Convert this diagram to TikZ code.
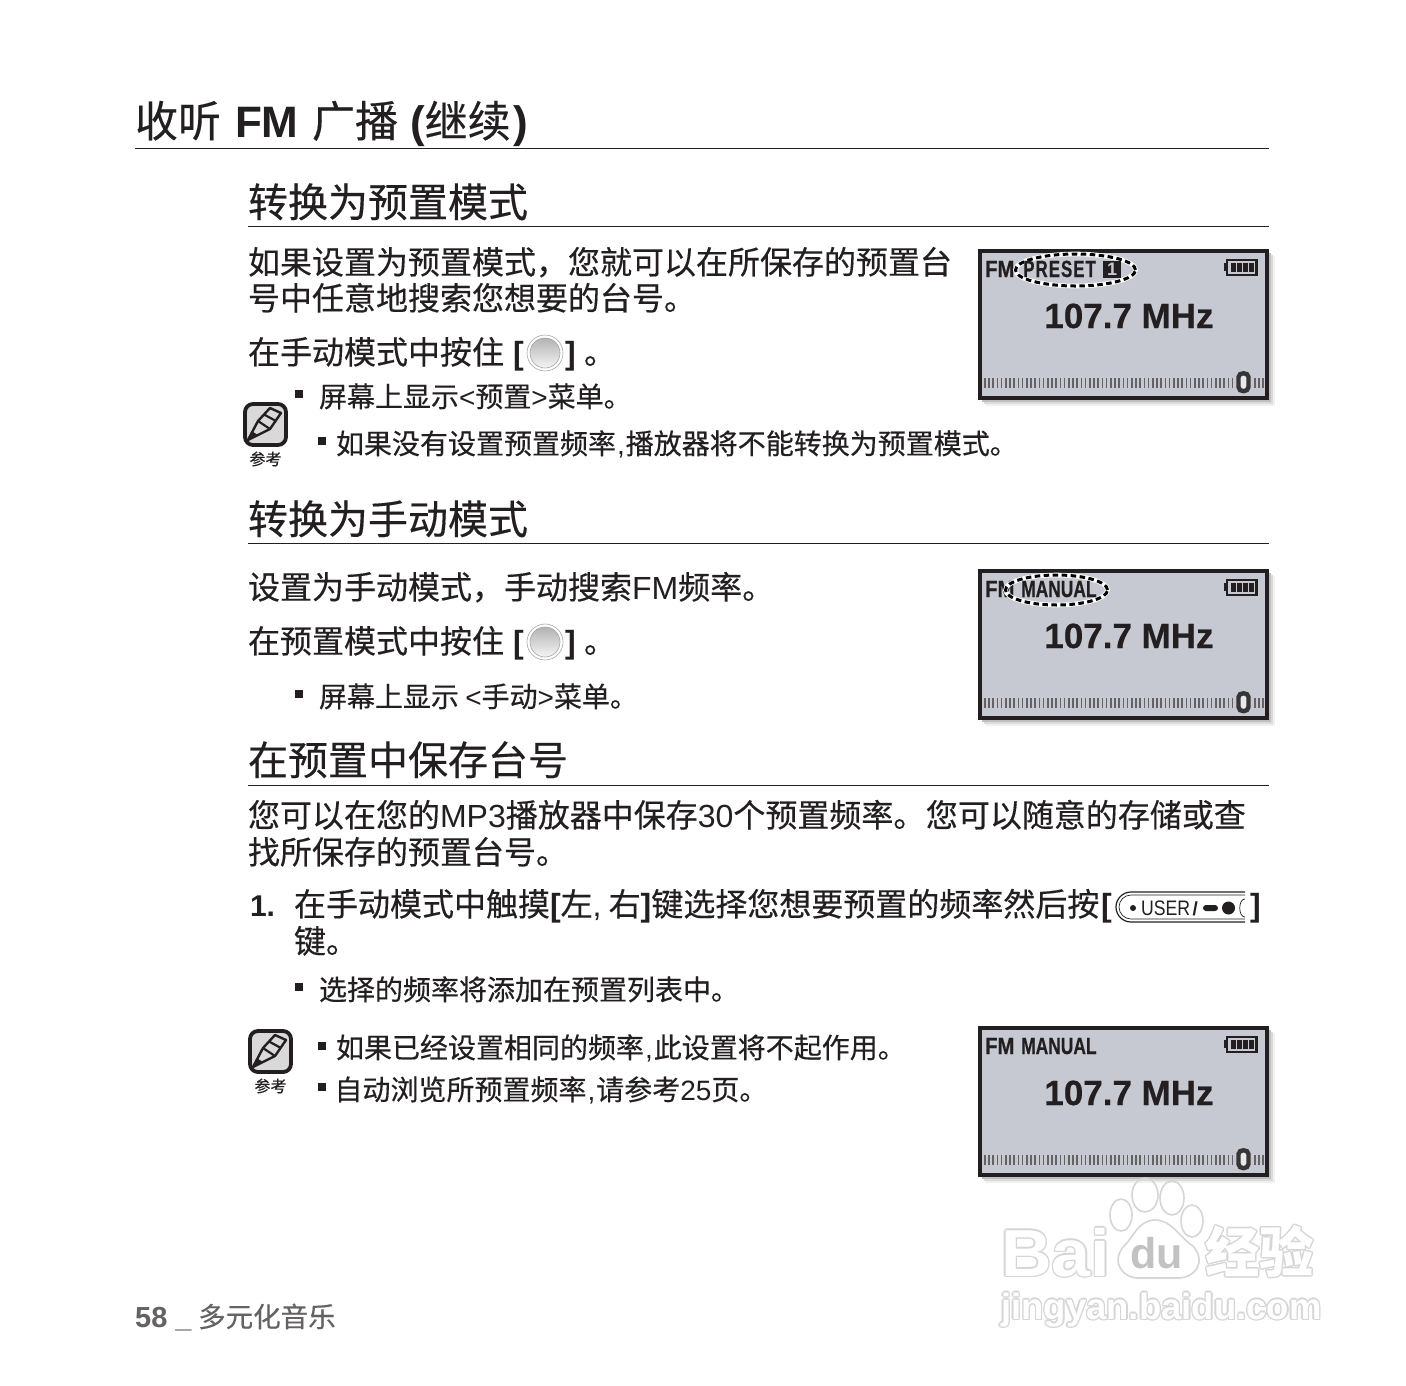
\documentclass[tikz,border=0pt]{standalone}
\usepackage{fontspec}
\usepackage{graphicx}
\setmainfont{Noto Sans CJK SC}[FakeBold=0.35]
\newfontfamily\lsf{Liberation Sans}
\newfontfamily\lcdf{Liberation Sans}[BoldFeatures={FakeBold=0.6}]
\newcommand\La[1]{{\lsf #1}}
\newcommand\Lb[1]{{\lsf\bfseries #1}}
\definecolor{ink}{HTML}{231F20}
\definecolor{lcdbg}{HTML}{C6C9D2}
\usetikzlibrary{calc}
\tikzset{
  txt/.style={anchor=base west,inner sep=0pt,outer sep=0pt,text=ink},
  titletxt/.style={txt,font=\fontsize{43}{43}\selectfont},
  headtxt/.style={txt,font=\fontsize{40}{40}\selectfont},
  bodytxt/.style={txt,font=\fontsize{32}{32}\selectfont},
  subtxt/.style={txt,font=\fontsize{28}{28}\selectfont},
  rulet/.style={line width=0.9pt,draw=ink},
  bulletbox/.style={fill=ink,draw=none},
  lcdframe/.style={draw=ink,line width=3.8pt,fill=lcdbg},
  lcdsmall/.style={anchor=base west,inner sep=0pt,text=ink,font=\lcdf\bfseries\fontsize{23.5}{23.5}\selectfont},
  freq/.style={anchor=base,inner sep=0pt,text=ink,font=\lcdf\bfseries\fontsize{35}{35}\selectfont},
  dashw/.style={draw=white,line width=4.6pt},
  dashk/.style={draw=black,line width=3pt,dash pattern=on 5.5pt off 3.5pt},
}
% LCD panel: #1 name, #2 top y
\newcommand\lcdpanel[2]{%
  \begin{scope}[shift={(0,#2)}]
    \fill[gray!12] (985,7) rectangle (1275,157);
    \fill[gray!28] (984,6) rectangle (1273,155);
    \fill[gray!50] (982,4) rectangle (1271,152.5);
    \draw[lcdframe] (980,2) rectangle (1267,149);
    \node[freq] (#1f) at (1129,79) {107.7 MHz};
    % battery
    \fill[ink] (1224,14) rectangle (1227,22);
    \draw[ink,line width=2.2pt,fill=lcdbg] (1227,11) rectangle (1256.5,26);
    \foreach \bx in {1231,1237,1243,1249} \fill[ink] (\bx,14) rectangle +(4.5,9);
    % tuning scale
    \foreach \tx in {984,988.2,...,1232,1254,1258.2,1262.4}
      \fill[ink!70] (\tx,128.5) rectangle +(1.6,10);
    \draw[ink!90,line width=4.4pt,fill=lcdbg!40]
      (1238.5,128) .. controls (1238.5,123) and (1248.5,123) .. (1248.5,128) -- (1248.5,138)
      .. controls (1248.5,143.5) and (1238.5,143.5) .. (1238.5,138) -- cycle;
  \end{scope}}
% note icon: #1 name, #2 x, #3 y
\newcommand\noteicon[3]{%
  \begin{scope}[shift={(#2,#3)}]
    \node[draw=ink,line width=3.8pt,fill=gray!30,rounded corners=8pt,minimum width=41pt,minimum height=41pt,inner sep=0pt] (#1) at (22.5,22.5) {};
    \draw[ink,line width=2.4pt,line join=round]
      (5,38) -- (15,19) -- (27,6) -- (38,11) -- (27,27) -- cycle;
    \draw[ink,line width=2.2pt] (15,19) -- (27,27) (21,12.5) -- (33,19);
    \fill[ink] (5,38) -- (8.5,29) -- (15,33) -- cycle;
  \end{scope}}
% round button
\newcommand\roundbtn[3]{%
  \node[circle,draw=gray!70,line width=0.6pt,minimum size=36pt,inner sep=0pt] (#1) at (#2,#3) {};
  \shade[top color=gray!60,bottom color=gray!8,draw=gray!70,line width=0.6pt] (#2,#3) circle (15pt);}
% outlined watermark text
\newcommand\wmtext[5]{%
  \foreach \dx/\dy in {-1.4/0,1.4/0,0/-1.4,0/1.4,-1/-1,1/-1,-1/1,1/1}
    \node[anchor=base west,inner sep=0pt,text=gray!32,font=#4] at ($(#2,#3)+(\dx,\dy)$) {#5};
  \node[anchor=base west,inner sep=0pt,text=white,font=#4] (#1) at (#2,#3) {#5};}
\begin{document}
\begin{tikzpicture}[x=1pt,y=-1pt]
\useasboundingbox (0,0) rectangle (1406,1385);
\fill[white] (0,0) rectangle (1406,1385);

% title
\node[titletxt] (title) at (135,137) {收听\hspace{14pt}\Lb{\fontsize{44}{44}\selectfont FM}\hspace{13.5pt}广播\hspace{12pt}\Lb{\fontsize{44}{44}\selectfont (}继续\hspace{3pt}\Lb{\fontsize{44}{44}\selectfont )}};
\coordinate (r0a) at (135,148.5); \coordinate (r0b) at (1268.5,148.5);
\draw[rulet] (r0a) -- (r0b);

% section 1
\node[headtxt] (h1) at (248,217) {转换为预置模式};
\coordinate (r1a) at (248,226); \coordinate (r1b) at (1268.5,226);
\draw[rulet] (r1a) -- (r1b);
\node[bodytxt] (b1a) at (248,274) {如果设置为预置模式，您就可以在所保存的预置台};
\node[bodytxt] (b1b) at (248,310) {号中任意地搜索您想要的台号。};
\node[bodytxt] (b1c) at (248,364) {在手动模式中按住};
\node[bodytxt] (b1d) at (513,364) {\Lb{[}};
\roundbtn{btn1}{545}{353}
\node[bodytxt] (b1e) at (565,364) {\Lb{]}};
\node[bodytxt] (b1f) at (584,364) {。};
\fill[bulletbox] (295,390) rectangle +(8,8);
\node[subtxt] (s1a) at (319,407) {屏幕上显示\La{<}预置\La{>}菜单。};
\fill[bulletbox] (318,437) rectangle +(8,8);
\node[subtxt] (s1b) at (336,454) {如果没有设置预置频率\hspace{1pt}\La{,}\hspace{1pt}播放器将不能转换为预置模式。};
\noteicon{note1}{243}{402}
\node[anchor=center,inner sep=0pt,text=ink,font=\fontsize{16}{16}\selectfont] (n1) at (265.5,459) {参考};

% section 2
\node[headtxt] (h2) at (248,534) {转换为手动模式};
\coordinate (r2a) at (248,543); \coordinate (r2b) at (1268.5,543);
\draw[rulet] (r2a) -- (r2b);
\node[bodytxt] (b2a) at (248,599) {设置为手动模式，手动搜索\La{FM}频率。};
\node[bodytxt] (b2b) at (248,653) {在预置模式中按住};
\node[bodytxt] (b2c) at (513,653) {\Lb{[}};
\roundbtn{btn2}{545}{642}
\node[bodytxt] (b2d) at (565,653) {\Lb{]}};
\node[bodytxt] (b2e) at (584,653) {。};
\fill[bulletbox] (295,690) rectangle +(8,8);
\node[subtxt] (s2a) at (319,707) {屏幕上显示 \La{<}手动\La{>}菜单。};

% section 3
\node[headtxt] (h3) at (248,775) {在预置中保存台号};
\coordinate (r3a) at (248,785); \coordinate (r3b) at (1268.5,785);
\draw[rulet] (r3a) -- (r3b);
\node[bodytxt] (b3a) at (248,827) {您可以在您的\La{MP3}播放器中保存\La{30}个预置频率。\hspace{0.5pt}您可以随意的存储或查};
\node[bodytxt] (b3b) at (248,864) {找所保存的预置台号。};
\node[bodytxt] (b3c) at (250,916) {\Lb{\fontsize{30}{30}\selectfont 1.}};
\node[bodytxt] (b3d) at (294,916) {在手动模式中触摸\Lb{[}左\La{,} 右\Lb{]}键选择您想要预置的频率然后按};
\node[bodytxt] (b3e) at (1101,916) {\Lb{[}};
\node[bodytxt] (b3f) at (1250,916) {\Lb{]}};
\node[bodytxt] (b3g) at (294,953) {键。};
% USER key
\coordinate (ua) at (1245,892); \coordinate (ub) at (1245,922);
\draw[ink,line width=1.2pt] (ua) -- (1131,892) arc[start angle=90,end angle=270,radius=15pt] -- (ub);
\draw[ink,line width=0.7pt] (1245,895) -- (1131,895) arc[start angle=90,end angle=270,radius=12pt] -- (1245,919);
\fill[ink] (1133,908) circle (3pt);
\node[anchor=base west,inner sep=0pt,text=ink,font=\lsf\fontsize{21}{21}\selectfont] (usertxt) at (1141,915.5) {\scalebox{0.84}[1]{USER}};
\node[anchor=base west,inner sep=0pt,text=ink,font=\lsf\bfseries\fontsize{19}{19}\selectfont] (userslash) at (1192.5,915) {/};
\fill[ink,rounded corners=3pt] (1203,905) rectangle (1218,911);
\fill[ink] (1228.5,908) circle (6.5pt);
\draw[ink,line width=0.7pt] (1245,899) .. controls (1238,899) and (1238,917) .. (1245,917);
\fill[bulletbox] (295,983) rectangle +(8,8);
\node[subtxt] (s3a) at (319,1000) {选择的频率将添加在预置列表中。};
\noteicon{note2}{248}{1029}
\node[anchor=center,inner sep=0pt,text=ink,font=\fontsize{16}{16}\selectfont] (n2) at (270.5,1086) {参考};
\fill[bulletbox] (318,1042) rectangle +(8,8);
\node[subtxt] (s3b) at (336,1058) {如果已经设置相同的频率\hspace{1pt}\La{,}\hspace{1pt}此设置将不起作用。};
\fill[bulletbox] (318,1083) rectangle +(8,8);
\node[subtxt] (s3c) at (334.5,1100) {自动浏览所预置频率\hspace{1pt}\La{,}\hspace{1pt}请参考\La{25}页。};

% LCD 1
\lcdpanel{lcdA}{249}
\node[lcdsmall] (lcdAfm) at (985,277) {\scalebox{0.86}[1]{FM}};
\draw[dashw] (1075.5,270) ellipse (60pt and 16pt);
\draw[dashk] (1075.5,270) ellipse (60pt and 16pt);
\node[lcdsmall] (lcdAp) at (1023,277) {\scalebox{0.72}[1]{P\kern1.4pt R\kern1.4pt E\kern1.4pt S\kern1.4pt E\kern1.4pt T}};
\node[fill=ink,text=lcdbg,inner sep=0pt,minimum width=18pt,minimum height=17pt,font=\lsf\bfseries\fontsize{18}{18}\selectfont] (lcdAn) at (1112,269) {1};
% LCD 2
\lcdpanel{lcdB}{569}
\node[lcdsmall] (lcdBfm) at (985,597) {\scalebox{0.86}[1]{FM}};
\draw[dashw] (1056.5,590) ellipse (51pt and 15pt);
\draw[dashk] (1056.5,590) ellipse (51pt and 15pt);
\node[lcdsmall] (lcdBm) at (1021,597) {\scalebox{0.74}[1]{MANUAL}};
% LCD 3
\lcdpanel{lcdC}{1026}
\node[lcdsmall] (lcdCfm) at (985,1054) {\scalebox{0.86}[1]{FM}};
\node[lcdsmall] (lcdCm) at (1021,1054) {\scalebox{0.74}[1]{MANUAL}};

% footer
\node[anchor=base west,inner sep=0pt,text=ink!70,font=\lsf\bfseries\fontsize{29}{29}\selectfont] (pg) at (135,1327) {58 \_};
\node[anchor=base west,inner sep=0pt,text=ink!70,font=\fontsize{27.5}{27.5}\selectfont] (sec) at (198,1327) {多元化音乐};

% watermark
\begin{scope}[draw=gray!32,line width=1.6pt,fill=white]
  \draw (1145,1195) ellipse (13pt and 17pt);
  \draw (1172,1198) ellipse (12pt and 17pt);
  \draw (1121,1215) ellipse (11pt and 16pt);
  \draw (1192,1221) ellipse (11pt and 16pt);
  \draw (1155,1220) .. controls (1138,1220) and (1133,1238) .. (1124,1246)
     .. controls (1110,1262) and (1123,1279) .. (1140,1278)
     -- (1176,1278) .. controls (1195,1279) and (1207,1262) .. (1193,1246)
     .. controls (1180,1238) and (1172,1220) .. (1155,1220) -- cycle;
\end{scope}
\wmtext{wmA}{1001}{1276}{\lsf\bfseries\fontsize{70}{70}\selectfont}{\scalebox{1}[0.95]{Bai}}
\node[anchor=base west,inner sep=0pt,text=gray!48,font=\lsf\bfseries\fontsize{43}{43}\selectfont] (wmB) at (1130,1268) {du};
\wmtext{wmC}{1205}{1272}{\bfseries\fontsize{54}{54}\selectfont}{经验}
\wmtext{wmD}{1001}{1319}{\lsf\bfseries\fontsize{36.5}{36.5}\selectfont}{jingyan.baidu.com}
\end{tikzpicture}
\end{document}
